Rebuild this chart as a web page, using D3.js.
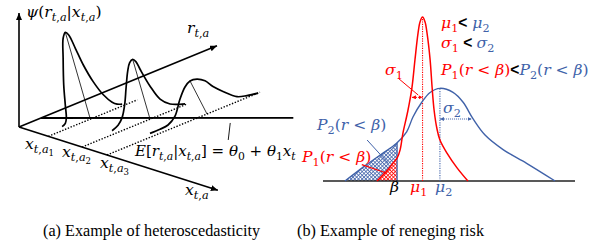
<!DOCTYPE html>
<html><head><meta charset="utf-8">
<script src="https://cdn.jsdelivr.net/npm/d3@7"></script>
<style>body{margin:0;background:#fff}svg{display:block}text{white-space:pre}</style>
</head><body>
<svg id="c" width="597" height="245"></svg>
<script>
// ---------- data: panel (a) heteroscedasticity ----------
const xLevels   = [1, 2.15, 3];                 // x_{t,a1}, x_{t,a2}, x_{t,a3}
const xSubs     = ["1", "2", "3"];
const guideEnds = [4.45, 5.25, 7.65];           // extent (in r) of the dotted guides
const means     = [2.1, 3.4, 5.0];              // E[r|x] at each x level
const curve1R   = [0.69,0.85,0.9,0.85,0.77,0.74,0.74,0.85,1.02,1.35,1.75,2.25,2.75,3.19,3.44,3.69];
const curve1Psi = [0.04,0.06,0.11,0.24,0.45,0.72,0.92,0.97,0.93,0.77,0.57,0.36,0.19,0.08,0.04,0.02];
const curve2R   = [1.5,1.8,2.0,2.13,2.2,2.28,2.38,2.53,2.7,2.9,3.4,3.9,4.4,5.15];
const curve2Psi = [0.04,0.07,0.13,0.25,0.41,0.57,0.65,0.67,0.63,0.54,0.33,0.16,0.07,0.01];
const curve3R   = [2.15,2.65,3.05,3.4,3.65,3.9,4.15,4.5,4.9,5.3,5.8,6.5,7.0,7.55];
const curve3Psi = [0.04,0.04,0.05,0.11,0.26,0.36,0.40,0.39,0.34,0.25,0.16,0.05,0.02,0.0];
const theta0 = 1.1, theta1 = 1.14, regXmax = 4.84;
const axisLen = {x: 6.78, r: 9.9, psi: 1.14};

// ---------- data: panel (b) reneging risk ----------
const redR  = [-1.86,-1.42,-1.22,-1.06,-0.94,-0.83,-0.63,-0.47,-0.35,-0.23,-0.15,-0.05,0.05,0.13,0.25,0.33,0.41,0.52,0.64,0.92,1.32,1.75];
const redD  = [0,0.07,0.11,0.14,0.19,0.29,0.43,0.57,0.74,0.90,0.97,1.0,0.97,0.90,0.74,0.57,0.43,0.32,0.25,0.17,0.08,0];
const blueR = [-3.13,-2.27,-1.62,-1.08,-0.68,-0.43,-0.08,0.25,0.64,1.16,1.56,1.95,2.43,3.16,4.08,5.21];
const blueD = [0,0.10,0.17,0.23,0.30,0.39,0.48,0.54,0.565,0.54,0.48,0.38,0.28,0.19,0.108,0];
const mu    = [-0.05, 0.64];
const sigma = [0.42, 1.26];
const sigmaLevel = [0.51, 0.378];
const beta  = -1.06;
const rDomain = [-4, 6];

const RED = "#ff0000", BLUE = "#4062a9", MATH = "DejaVu Serif";
const svg = d3.select("#c");
const defs = svg.append("defs");

function marker(id, color, w, h) {
  defs.append("marker").attr("id", id).attr("viewBox", `0 0 ${w} ${h}`)
    .attr("refX", w).attr("refY", h/2).attr("markerWidth", w).attr("markerHeight", h)
    .attr("markerUnits", "userSpaceOnUse").attr("orient", "auto-start-reverse")
    .append("path").attr("d", `M0,0L${w},${h/2}L0,${h}Z`).attr("fill", color);
}
marker("ak", "#000", 7, 6);
marker("ar", RED, 4, 4);
marker("ab", BLUE, 4, 4);

function hatch(id, color) {
  const p = defs.append("pattern").attr("id", id).attr("width", 2.6).attr("height", 2.6)
    .attr("patternUnits", "userSpaceOnUse").attr("patternTransform", "rotate(45)");
  p.append("rect").attr("width", 2.6).attr("height", 2.6).attr("fill", "#fff");
  p.append("path").attr("d", "M0,0.4H2.6M0.4,0V2.6").attr("stroke", color).attr("stroke-width", 0.8);
}
hatch("hb", BLUE); hatch("hr", RED);

const LETTER = /[A-Za-z\u0370-\u03FF]/;
function runs(s) {
  const out = []; let cur = "", it = null;
  for (const ch of s) {
    const l = LETTER.test(ch);
    if (it === null || l === it) { cur += ch; it = l; }
    else { out.push([cur, it]); cur = ch; it = l; }
  }
  if (cur) out.push([cur, it]);
  return out;
}
function mathText(sel, x, y, parts, size) {
  const t = sel.append("text").attr("x", x).attr("y", y).attr("font-size", size).attr("font-family", MATH);
  let cur = 0;
  parts.forEach(p => {
    const [str, lvl, color, sans] = p;
    const off = [0, 0.28, 0.46][lvl] * size;
    const fs = [1, 0.72, 0.55][lvl] * size;
    const rr = sans ? [[str, false]] : runs(str);
    rr.forEach(r => {
      const ts = t.append("tspan").text(r[0]).attr("font-size", fs).attr("fill", color || "#000");
      if (r[1]) ts.attr("font-style", "italic");
      if (sans) ts.attr("font-family", "Liberation Sans").attr("font-weight", "bold");
      if (off !== cur) { ts.attr("dy", off - cur); cur = off; }
    });
  });
  return t;
}

// ================= panel (a) =================
defs.append("clipPath").attr("id", "clipA").append("rect").attr("x", 0).attr("y", 0).attr("width", 298).attr("height", 215);
const gA = svg.append("g").attr("clip-path", "url(#clipA)");
const O = [19, 127];
const xS = d3.scaleLinear().domain([0, 3]).range([0, 88]);
const rS = d3.scaleLinear().domain([0, 10]).range([0, 200]);
const pS = d3.scaleLinear().domain([0, 1]).range([0, 100]);
const KX = 0.318, KR = 0.41;
const P = (x, r, psi) => { const a = xS(x), b = rS(r); return [O[0] + a + b, O[1] + KX * a - KR * b - pS(psi)]; };
const seg = (g, p0, p1) => g.append("line").attr("x1", p0[0]).attr("y1", p0[1]).attr("x2", p1[0]).attr("y2", p1[1]);

// axes
[P(0,0,axisLen.psi), P(0,axisLen.r,0), P(axisLen.x,0,0)].forEach(e =>
  seg(gA, P(0,0,0), e).attr("stroke", "#000").attr("stroke-width", 1.6).attr("marker-end", "url(#ak)"));

// regression line (horizontal in projection)
const regA = P(0, theta0, 0), regB = P(regXmax, theta0 + theta1 * regXmax, 0);
seg(gA, regA, regB).attr("stroke", "#000").attr("stroke-width", 1.8);

// dotted guides
xLevels.forEach((x, i) => seg(gA, P(x, 0, 0), P(x, guideEnds[i], 0))
  .attr("stroke", "#000").attr("stroke-width", 1.4).attr("stroke-dasharray", "1.4,1.6"));

// density curves
const curves = [[curve1R, curve1Psi], [curve2R, curve2Psi], [curve3R, curve3Psi]];
const lineGen = d3.line().curve(d3.curveCatmullRom.alpha(0.5));
curves.forEach((c, i) => {
  const pts = c[0].map((r, j) => P(xLevels[i], r, c[1][j]));
  gA.append("path").attr("d", lineGen(pts)).attr("fill", "none").attr("stroke", "#000").attr("stroke-width", 1.7);
  const k = d3.maxIndex(c[1]);
  seg(gA, P(xLevels[i], c[0][k], c[1][k]), P(xLevels[i], means[i], 0)).attr("stroke", "#000").attr("stroke-width", 0.8);
});

// leader for E label
const regY = regA[1];
const lx = P(3.63, theta0 + theta1 * 3.63, 0)[0];
gA.append("line").attr("x1", lx).attr("y1", regY + 5).attr("x2", lx - 2).attr("y2", regY + 22).attr("stroke", "#000").attr("stroke-width", 0.9);

// labels (a)
const FS = 15.6;
mathText(gA, 26, 17, [["ψ(r",0],["t,a",1],["|x",0],["t,a",1],[")",0]], FS);
mathText(gA, 187, 33, [["r",0],["t,a",1]], FS);
mathText(gA, 185, 195, [["x",0],["t,a",1]], FS);
const lblPos = [[25,149],[62,157],[100,168]];
xSubs.forEach((s, i) => mathText(gA, lblPos[i][0], lblPos[i][1], [["x",0],["t,a",1],[s,2]], FS));
mathText(gA, 135, 156, [["E[r",0],["t,a",1],["|x",0],["t,a",1],["] = θ",0],["0",1],[" + θ",0],["1",1],["x",0],["t",1]], 15);

// ================= panel (b) =================
const gB = svg.append("g");
const rX = d3.scaleLinear().domain(rDomain).range([323, 575]);
const dY = d3.scaleLinear().domain([0, 1]).range([181, 17]);
const blueAt = d3.scaleLinear().domain(blueR).range(blueD);
const redAt = d3.scaleLinear().domain(redR).range(redD);
defs.append("clipPath").attr("id", "clipBeta").append("rect").attr("x", 0).attr("y", 0).attr("width", rX(beta)).attr("height", dY(0));

const area = d3.area().x(d => rX(d[0])).y0(dY(0)).y1(d => dY(d[1])).curve(d3.curveCatmullRom.alpha(0.5));
const line = d3.line().x(d => rX(d[0])).y(d => dY(d[1])).curve(d3.curveCatmullRom.alpha(0.5));
const blue = blueR.map((r, i) => [r, blueD[i]]);
const red = redR.map((r, i) => [r, redD[i]]);

gB.append("path").attr("d", area(blue)).attr("fill", "url(#hb)").attr("clip-path", "url(#clipBeta)");
gB.append("path").attr("d", area(red)).attr("fill", "url(#hr)").attr("clip-path", "url(#clipBeta)");
seg(gB, [rX(beta), dY(0)], [rX(beta), dY(blueAt(beta))]).attr("stroke", BLUE).attr("stroke-width", 1.3);

// baseline
seg(gB, [rX(rDomain[0]), dY(0)], [rX(rDomain[1]), dY(0)]).attr("stroke", "#222").attr("stroke-width", 1.6);

// mean lines
seg(gB, [rX(mu[0]), dY(0)], [rX(mu[0]), dY(redAt(mu[0]))]).attr("stroke", RED).attr("stroke-width", 1.1).attr("stroke-dasharray", "1.2,1.2");
seg(gB, [rX(mu[1]), dY(0)], [rX(mu[1]), dY(blueAt(mu[1]))]).attr("stroke", BLUE).attr("stroke-width", 1.1).attr("stroke-dasharray", "1.2,1.2");

gB.append("path").attr("d", line(blue)).attr("fill", "none").attr("stroke", BLUE).attr("stroke-width", 1.4);
gB.append("path").attr("d", line(red)).attr("fill", "none").attr("stroke", RED).attr("stroke-width", 1.5);

// sigma arrows
seg(gB, [rX(mu[0] - sigma[0]), dY(sigmaLevel[0])], [rX(mu[0]), dY(sigmaLevel[0])])
  .attr("stroke", RED).attr("stroke-width", 1).attr("stroke-dasharray", "1,1")
  .attr("marker-start", "url(#ar)").attr("marker-end", "url(#ar)");
seg(gB, [rX(mu[1]), dY(sigmaLevel[1])], [rX(mu[1] + sigma[1]), dY(sigmaLevel[1])])
  .attr("stroke", BLUE).attr("stroke-width", 1).attr("stroke-dasharray", "1,1")
  .attr("marker-start", "url(#ab)").attr("marker-end", "url(#ab)");

// leaders
seg(gB, [rX(-1.01), dY(0.626)], [rX(-0.22), dY(0.524)]).attr("stroke", RED).attr("stroke-width", 1);
seg(gB, [rX(-2.25), dY(0.25)], [rX(-1.42), dY(0.11)]).attr("stroke", BLUE).attr("stroke-width", 1);
seg(gB, [rX(-2.46), dY(0.10)], [rX(-1.46), dY(0.047)]).attr("stroke", RED).attr("stroke-width", 1.2);

// labels (b)
mathText(gB, 441, 28, [["μ",0,RED],["1",1,RED],["<",0,"#000",1],[" μ",0,BLUE],["2",1,BLUE]], FS);
mathText(gB, 441, 48, [["σ",0,RED],["1",1,RED],[" < ",0,"#000",1],["σ",0,BLUE],["2",1,BLUE]], FS);
mathText(gB, 441, 75, [["P",0,RED],["1",1,RED],["(r < β)",0,RED],["<",0,"#000",1],["P",0,BLUE],["2",1,BLUE],["(r < β)",0,BLUE]], FS);
mathText(gB, 385, 75, [["σ",0,RED],["1",1,RED]], FS);
mathText(gB, 443, 113, [["σ",0,BLUE],["2",1,BLUE]], FS);
mathText(gB, 317, 130, [["P",0,BLUE],["2",1,BLUE],["(r < β)",0,BLUE]], FS);
mathText(gB, 302, 162, [["P",0,RED],["1",1,RED],["(r < β)",0,RED]], FS);
mathText(gB, 390, 192, [["β",0]], FS);
mathText(gB, 410, 192, [["μ",0,RED],["1",1,RED]], FS);
mathText(gB, 435, 192, [["μ",0,BLUE],["2",1,BLUE]], FS);

// captions
svg.append("text").attr("x", 43).attr("y", 236).attr("font-family", "Liberation Serif").attr("font-size", 16.2).text("(a) Example of heteroscedasticity");
svg.append("text").attr("x", 297).attr("y", 236).attr("font-family", "Liberation Serif").attr("font-size", 16.2).text("(b) Example of reneging risk");
</script>
</body></html>
